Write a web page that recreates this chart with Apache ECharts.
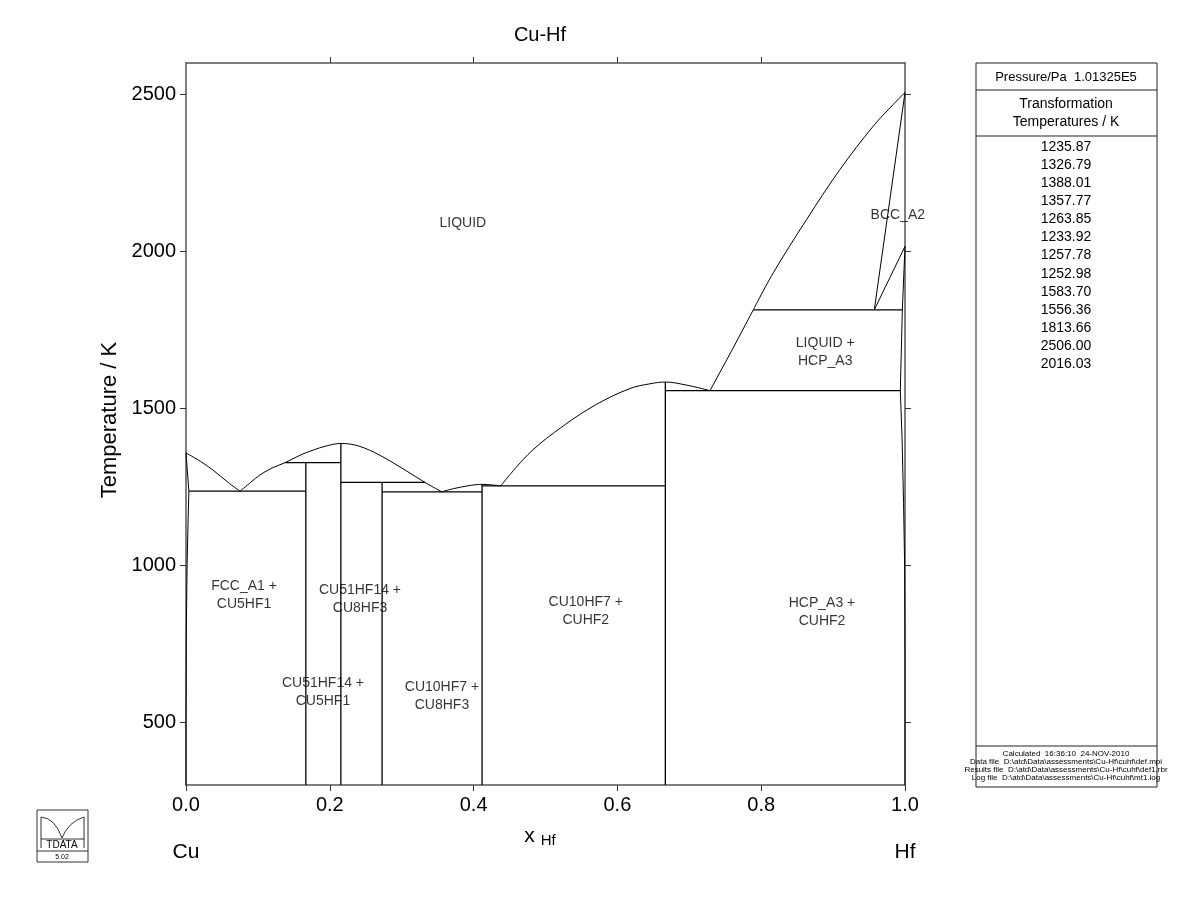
<!DOCTYPE html>
<html><head><meta charset="utf-8">
<script src="https://cdn.jsdelivr.net/npm/echarts@6/dist/echarts.min.js"></script>
<style>html,body{margin:0;padding:0;background:#fff}#c{width:1200px;height:923px}</style>
</head><body><div id="c"></div>
<script>
// ---- data ----
const xTicks = [0, 0.2, 0.4, 0.6, 0.8, 1.0];
const xTopTicks = [0.2, 0.4, 0.6, 0.8];
const tTicks = [500, 1000, 1500, 2000, 2500];
const transformationTemps = ['1235.87','1326.79','1388.01','1357.77','1263.85','1233.92','1257.78','1252.98','1583.70','1556.36','1813.66','2506.00','2016.03'];

// liquidus / phase boundary curves  [x_Hf, T/K]
const fccSolidus = [[0,1357.77],[0.004,1235.87],[0.003,1150],[0.0015,1000],[0.0005,800],[0,500],[0,300]];
const liqCu = [[0,1357.77],[0.02,1331],[0.0376,1303],[0.058,1265],[0.0751,1235.87]];
const liqA = [[0.0751,1235.87],[0.09,1264],[0.103,1288],[0.12,1310],[0.1377,1326.79],[0.16,1352],[0.177,1367],[0.195,1380],[0.2154,1388.01],[0.24,1380],[0.27,1350],[0.307,1300],[0.3324,1263.85],[0.3556,1233.92]];
const liqC = [[0.3556,1233.92],[0.372,1244],[0.392,1253],[0.4118,1257.78],[0.425,1256],[0.4377,1252.98]];
const liqD = [[0.4377,1252.98],[0.4784,1359],[0.5248,1444],[0.5712,1513],[0.6175,1563],[0.645,1578],[0.6667,1583.70],[0.696,1574],[0.7288,1556.36]];
const liqE = [[0.7288,1556.36],[0.76,1688],[0.789,1813.66]];
const liqF = [[0.789,1813.66],[0.8169,1932],[0.8633,2102],[0.9096,2261],[0.9559,2399],[0.9837,2468],[1.0,2506]];
const bccSolidus = [[0.9573,1813.66],[1.0,2506]];
const bccHcpA = [[0.9573,1813.66],[1.0,2016.03]];
const bccHcpB = [[0.9963,1813.66],[1.0,2016.03]];
const hcpSolvus = [[0.9963,1813.66],[0.9935,1556.36],[0.996,1400],[0.998,1200],[0.9995,1000],[1.0,700],[1.0,300]];

// invariant (horizontal) lines: [xStart, xEnd, T]
const invariants = [
  [0.004, 0.1667, 1235.87],
  [0.1377, 0.2154, 1326.79],
  [0.2154, 0.3324, 1263.85],
  [0.2727, 0.4118, 1233.92],
  [0.4118, 0.6667, 1252.98],
  [0.6667, 0.9935, 1556.36],
  [0.789, 0.9963, 1813.66]
];
// compounds: [x, T top]
const compounds = [
  [1/6, 1326.79],
  [14/65, 1388.01],
  [3/11, 1263.85],
  [7/17, 1257.78],
  [2/3, 1583.70]
];
const Tmin = 300;
// phase labels: [x, T, text]
const phaseLabels = [
  [0.385, 2089, 'LIQUID'],
  [0.990, 2115, 'BCC_A2'],
  [0.889, 1678, 'LIQUID +\nHCP_A3'],
  [0.0807, 904, 'FCC_A1 +\nCU5HF1'],
  [0.242, 892, 'CU51HF14 +\nCU8HF3'],
  [0.1905, 596, 'CU51HF14 +\nCU5HF1'],
  [0.356, 583, 'CU10HF7 +\nCU8HF3'],
  [0.556, 853, 'CU10HF7 +\nCUHF2'],
  [0.8846, 850, 'HCP_A3 +\nCUHF2']
];

// ---- chart ----
const FONT = '"Liberation Sans", Arial, sans-serif';
const chart = echarts.init(document.getElementById('c'), null, {renderer:'canvas'});
function lineSeries(data, w, smooth){
  return {type:'line', data:data, showSymbol:false, symbol:'none', animation:false,
    smooth:smooth||false, lineStyle:{color:'#000', width:w||1}, silent:true, z:3};
}
const series = [];
[fccSolidus, liqE, bccSolidus, bccHcpA, bccHcpB, hcpSolvus].forEach(d=>series.push(lineSeries(d,1)));
[liqCu, liqA, liqC, liqD, liqF].forEach(d=>series.push(lineSeries(d,1,0.35)));
invariants.forEach(v=>series.push(lineSeries([[v[0],v[2]],[v[1],v[2]]],1.3)));
compounds.forEach(c=>series.push(lineSeries([[c[0],Tmin],[c[0],c[1]]],1.3)));
series.push({type:'scatter', data:phaseLabels, symbolSize:0, animation:false, silent:true, z:5,
  label:{show:true, position:[0,0], align:'center', verticalAlign:'middle', formatter:p=>p.data[2],
    fontFamily:FONT, fontSize:14, lineHeight:18, color:'#000'}});

const axisLine = {show:true, onZero:false, lineStyle:{color:'#555', width:1.5}};
const panelX = 976, panelW = 181, panelTop = 63, panelBot = 787;
const graphics = [
  {type:'text', style:{text:'Cu-Hf', x:540, y:35, font:'20px '+FONT, fill:'#000', textAlign:'center', textVerticalAlign:'middle'}},
  {type:'text', x:110, y:420, rotation:Math.PI/2, style:{x:0, y:0, text:'Temperature / K', font:'22px '+FONT, fill:'#000', textAlign:'center', textVerticalAlign:'middle'}},
  {type:'text', style:{x:540, y:836, rich:{a:{fontSize:21,fontFamily:FONT},b:{fontSize:15,fontFamily:FONT,padding:[10,0,0,0]}}, text:'{a|x }{b|Hf}', fill:'#000', textAlign:'center', textVerticalAlign:'middle'}},
  {type:'text', style:{x:186, y:852, text:'Cu', font:'21px '+FONT, fill:'#000', textAlign:'center', textVerticalAlign:'middle'}},
  {type:'text', style:{x:905, y:852, text:'Hf', font:'21px '+FONT, fill:'#000', textAlign:'center', textVerticalAlign:'middle'}},
  // side panel
  {type:'rect', shape:{x:panelX, y:panelTop, width:panelW, height:panelBot-panelTop}, style:{fill:'none', stroke:'#222', lineWidth:1}},
  {type:'line', shape:{x1:panelX, y1:90, x2:panelX+panelW, y2:90}, style:{stroke:'#222', lineWidth:1}},
  {type:'line', shape:{x1:panelX, y1:136, x2:panelX+panelW, y2:136}, style:{stroke:'#222', lineWidth:1}},
  {type:'line', shape:{x1:panelX, y1:746, x2:panelX+panelW, y2:746}, style:{stroke:'#222', lineWidth:1}},
  {type:'text', style:{x:1066, y:77, text:'Pressure/Pa  1.01325E5', font:'13px '+FONT, fill:'#000', textAlign:'center', textVerticalAlign:'middle'}},
  {type:'text', style:{x:1066, y:113, text:'Transformation\nTemperatures / K', font:'14px '+FONT, lineHeight:18, fill:'#000', textAlign:'center', textVerticalAlign:'middle'}},
  {type:'text', style:{x:1066, y:766, text:'Calculated  16:36:10  24-NOV-2010\nData file  D:\\atd\\Data\\assessments\\Cu-Hf\\cuhf\\def.mpi\nResults file  D:\\atd\\Data\\assessments\\Cu-Hf\\cuhf\\def1.rbr\nLog file  D:\\atd\\Data\\assessments\\Cu-Hf\\cuhf\\mt1.log', font:'8px '+FONT, lineHeight:8, fill:'#000', textAlign:'center', textVerticalAlign:'middle'}},
  // logo
  {type:'rect', shape:{x:37, y:810, width:51, height:52}, style:{fill:'none', stroke:'#333', lineWidth:1}},
  {type:'line', shape:{x1:37, y1:851, x2:88, y2:851}, style:{stroke:'#333', lineWidth:1}},
  {type:'bezierCurve', shape:{x1:41, y1:817, cpx1:55, cpy1:818, x2:62, y2:838}, style:{stroke:'#333', fill:'none', lineWidth:1}},
  {type:'bezierCurve', shape:{x1:62, y1:838, cpx1:68, cpy1:822, x2:84, y2:817}, style:{stroke:'#333', fill:'none', lineWidth:1}},
  {type:'line', shape:{x1:41, y1:817, x2:41, y2:848}, style:{stroke:'#333', lineWidth:1}},
  {type:'line', shape:{x1:84, y1:817, x2:84, y2:848}, style:{stroke:'#333', lineWidth:1}},
  {type:'line', shape:{x1:41, y1:839, x2:84, y2:839}, style:{stroke:'#333', lineWidth:1}},
  {type:'text', style:{x:62, y:845, text:'TDATA', font:'10px '+FONT, fill:'#000', textAlign:'center', textVerticalAlign:'middle'}},
  {type:'text', style:{x:62, y:857, text:'5.02', font:'7px '+FONT, fill:'#000', textAlign:'center', textVerticalAlign:'middle'}}
];
transformationTemps.forEach((t,i)=>{
  graphics.push({type:'text', style:{x:1066, y:147+i*18.1, text:t, font:'14px '+FONT, fill:'#000', textAlign:'center', textVerticalAlign:'middle'}});
});

chart.setOption({
  animation:false,
  backgroundColor:'#fff',
  grid:{left:186, right:295, top:63, bottom:138, containLabel:false},
  xAxis:[
    {type:'value', position:'bottom', min:0, max:1, interval:0.2, axisLine:axisLine,
     axisTick:{show:true, inside:false, length:6, lineStyle:{color:'#333'}},
     axisLabel:{show:true, margin:10, fontSize:20, fontFamily:FONT, color:'#000', formatter:v=>v.toFixed(1), customValues:xTicks},
     splitLine:{show:false}},
    {type:'value', position:'top', min:0, max:1, interval:0.2, axisLine:axisLine,
     axisTick:{show:true, inside:false, length:6, customValues:xTopTicks, lineStyle:{color:'#333'}},
     axisLabel:{show:false}, splitLine:{show:false}}
  ],
  yAxis:[
    {type:'value', position:'left', min:Tmin, max:2600, axisLine:axisLine,
     axisTick:{show:true, inside:false, length:6, customValues:tTicks, lineStyle:{color:'#333'}},
     axisLabel:{show:true, margin:10, fontSize:20, fontFamily:FONT, color:'#000', customValues:tTicks, formatter:v=>String(v)},
     splitLine:{show:false}},
    {type:'value', position:'right', min:Tmin, max:2600, axisLine:axisLine,
     axisTick:{show:true, inside:false, length:6, customValues:tTicks, lineStyle:{color:'#333'}},
     axisLabel:{show:false}, splitLine:{show:false}}
  ],
  series:series,
  graphic:graphics
});
</script></body></html>
